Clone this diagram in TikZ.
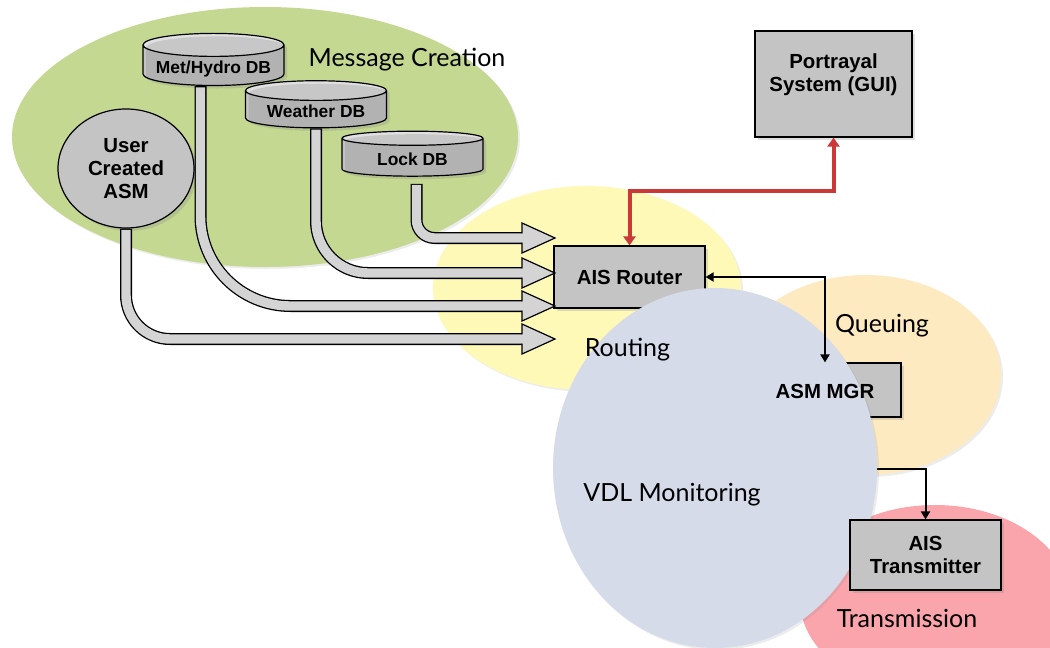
\documentclass[tikz,border=0pt]{standalone}
\usepackage{fontspec}
\setmainfont{Liberation Sans}
\newfontfamily\areafont{Lato}
\usetikzlibrary{arrows.meta,positioning,shapes.geometric,shadows}

\definecolor{creation}{RGB}{196,216,146}
\definecolor{routing}{RGB}{255,249,184}
\definecolor{queuing}{RGB}{253,234,192}
\definecolor{transmission}{RGB}{250,164,172}
\definecolor{vdl}{RGB}{214,219,234}
\definecolor{boxgray}{RGB}{196,196,196}
\definecolor{dbtop}{RGB}{224,224,224}
\definecolor{pipegray}{RGB}{212,212,212}
\definecolor{linkred}{RGB}{204,56,56}

\pgfdeclarelayer{back}
\pgfdeclarelayer{mid}
\pgfdeclarelayer{vdllayer}
\pgfsetlayers{back,mid,vdllayer,main}

\begin{document}
\begin{tikzpicture}[
      x=0.5pt, y=-0.5pt,
      mybox/.style={
         rectangle,
         draw=black,
         fill=boxgray,
         line width=0.6pt,
         inner sep=0pt,
         drop shadow={opacity=0.25,shadow xshift=1.5pt,shadow yshift=-1.5pt},
         font=\fontsize{10.2}{11.5}\selectfont\bfseries,
         align=center},
      mydb/.style={
         cylinder,
         shape border rotate=90,
         aspect=0.2,
         draw=black,
         line width=0.6pt,
         cylinder uses custom fill,
         cylinder end fill=dbtop,
         cylinder body fill=boxgray,
         minimum width=70.5pt,
         minimum height=22.5pt,
         inner sep=0pt,
         text height=8pt,
         text depth=0.5pt,
         drop shadow={opacity=0.25,shadow xshift=1.5pt,shadow yshift=-1.5pt},
         font=\fontsize{8.7}{10}\selectfont\bfseries},
      mytext/.style={
         font=\fontsize{10.2}{11.5}\selectfont\bfseries,
         align=center},
      myarea/.style={font=\areafont\fontsize{12.5}{14}\selectfont},
      myblob/.style={drop shadow={opacity=0.15,shadow xshift=1pt,shadow yshift=-1pt}},
      pipeedge/.style={draw=black, line width=6pt},
      pipecore/.style={draw=pipegray, line width=4.7pt, shorten <=0.6pt},
      pipehead/.style={draw=black, fill=pipegray, line width=0.6pt, line join=miter},
      myarrow/.style={draw=black, line width=1pt},
      redlink/.style={draw=linkred, line width=2pt,
         {Triangle[length=4.5pt,width=6pt]}-{Triangle[length=4.5pt,width=6pt]}}
      ]
      \useasboundingbox (0,0) rectangle (1050,648);

      % stage areas
      \begin{pgfonlayer}{back}
      \fill[creation, myblob] (265,137) ellipse [x radius=126.5pt, y radius=65pt];
      \fill[routing, myblob] (587,288) ellipse [x radius=77pt, y radius=51pt];
      \fill[queuing, myblob] (866,375) ellipse [x radius=67.5pt, y radius=50pt];
      \fill[transmission, myblob] (935,600) ellipse [x radius=67.5pt, y radius=47.5pt];
      \end{pgfonlayer}
      \begin{pgfonlayer}{vdllayer}
      \fill[vdl, myblob] (715,468) ellipse [x radius=81pt, y radius=90pt];
      \end{pgfonlayer}

      % sources
      \node[mybox, shape=ellipse, minimum width=68pt, minimum height=59.5pt] (usr) at (126,168.5) {User\\Created\\ASM};
      \node[mydb] (met) at (213.5,65.5) {Met/Hydro DB};
      \node[mydb] (wx) at (316,109.5) {Weather DB};
      \node[mydb] (lock) at (412.5,157.5) {Lock DB};

      % boxes
      \begin{pgfonlayer}{mid}
      \node[mybox, minimum width=75.5pt, minimum height=31pt] (rtr) at (629.5,277) {AIS Router};
      \node[mybox, minimum width=76pt, minimum height=27pt] (asmbox) at (825,390) {};
      \end{pgfonlayer}
      \node[mytext, anchor=base] (asm) at (825,398) {ASM MGR};
      \node[mybox, minimum width=78.5pt, minimum height=53pt] (gui) at (833.5,84) {};
      \node[mytext] (guitext) at ([yshift=4.5pt]gui.center) {Portrayal\\System (GUI)};
      \node[mybox, minimum width=75.5pt, minimum height=35pt, text depth=0pt] (trans) at (925.5,555) {AIS\\Transmitter};

      % area names
      \node[myarea, anchor=base] (creationlbl) at (407,66) {Message Creation};
      \node[myarea, anchor=base] (routinglbl) at (627.5,356) {Routing};
      \node[myarea, anchor=base] (queuinglbl) at (882,332) {Queuing};
      \node[myarea, anchor=base] (vdllbl) at (672,501) {VDL Monitoring};
      \node[myarea, anchor=base] (translbl) at (907,627) {Transmission};

      % links
      \draw[redlink] (rtr.north) -- ++(0,-54) -| (gui.south);
      \draw[myarrow, {Triangle[length=4pt,width=4.5pt]}-{Triangle[length=4pt,width=4.5pt]}] (rtr.east) -| (asmbox.north);
      \begin{pgfonlayer}{mid}
      \draw[myarrow, -{Triangle[length=4pt,width=4.5pt]}] (asmbox.south) -- ++(0,51) -| (trans.north);
      \end{pgfonlayer}

      % pipes into the router
      \coordinate (tip1) at (555,238);
      \coordinate (tip2) at (555,273);
      \coordinate (tip3) at (555,306);
      \coordinate (tip4) at (555,339);
      \coordinate (metout) at ([xshift=-6.5pt]met.south);
      \coordinate (lockout) at ([xshift=2pt,yshift=-3.5pt]lock.south);
    \foreach \src/\dst/\rad in {% start/arrow tip/corner radius
      usr.south/tip4/22pt,
      metout/tip3/45pt,
      wx.south/tip2/26pt,
      lockout/tip1/9pt}
    {
      \draw[pipeedge, rounded corners=\rad] (\src) |- ([xshift=-16.5pt]\dst);
      \draw[pipecore, rounded corners=\rad] (\src) |- ([xshift=-16.5pt]\dst);
      \filldraw[pipehead] ([xshift=-16.5pt,yshift=2.35pt]\dst) -- ([xshift=-16.5pt,yshift=7.5pt]\dst)
         -- (\dst) -- ([xshift=-16.5pt,yshift=-7.5pt]\dst) -- ([xshift=-16.5pt,yshift=-2.35pt]\dst);
    }
\end{tikzpicture}
\end{document}
